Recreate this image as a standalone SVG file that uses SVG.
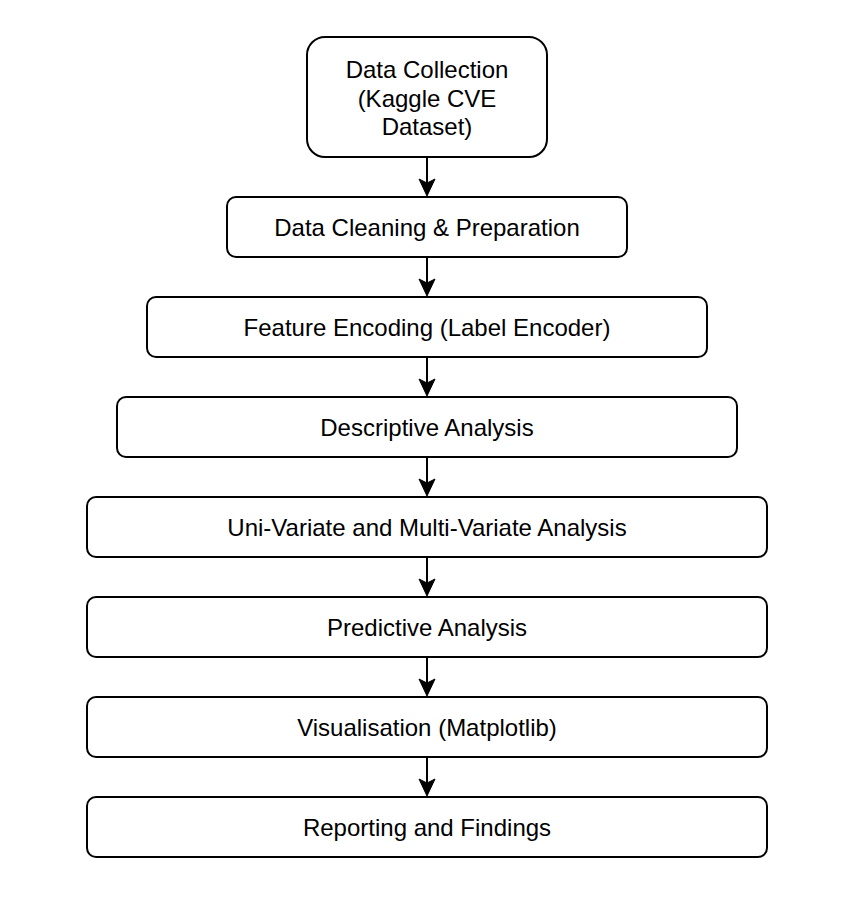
<svg xmlns="http://www.w3.org/2000/svg" width="852" height="898" viewBox="0 0 852 898">
<style>
.box{fill:#ffffff;stroke:#000000;stroke-width:2}
.lbl{font-family:"Liberation Sans",Arial,Helvetica,sans-serif;font-size:24px;fill:#000000;text-anchor:middle}
.edge{stroke:#000000;stroke-width:2;fill:none}
.head{fill:#000000;stroke:#000000;stroke-width:1}
</style>
<rect width="852" height="898" fill="#ffffff"/>
<g id="n1"><rect class="box" x="307" y="37" width="240" height="120" rx="18" ry="18"/>
<text class="lbl" x="427" y="78">Data Collection</text>
<text class="lbl" x="427" y="107">(Kaggle CVE</text>
<text class="lbl" x="427" y="135">Dataset)</text></g>
<g id="n2"><rect class="box" x="227" y="197" width="400" height="60" rx="9" ry="9"/>
<text class="lbl" x="427" y="235.5">Data Cleaning &amp; Preparation</text></g>
<g id="n3"><rect class="box" x="147" y="297" width="560" height="60" rx="9" ry="9"/>
<text class="lbl" x="427" y="335.5">Feature Encoding (Label Encoder)</text></g>
<g id="n4"><rect class="box" x="117" y="397" width="620" height="60" rx="9" ry="9"/>
<text class="lbl" x="427" y="435.5">Descriptive Analysis</text></g>
<g id="n5"><rect class="box" x="87" y="497" width="680" height="60" rx="9" ry="9"/>
<text class="lbl" x="427" y="535.5">Uni-Variate and Multi-Variate Analysis</text></g>
<g id="n6"><rect class="box" x="87" y="597" width="680" height="60" rx="9" ry="9"/>
<text class="lbl" x="427" y="635.5">Predictive Analysis</text></g>
<g id="n7"><rect class="box" x="87" y="697" width="680" height="60" rx="9" ry="9"/>
<text class="lbl" x="427" y="735.5">Visualisation (Matplotlib)</text></g>
<g id="n8"><rect class="box" x="87" y="797" width="680" height="60" rx="9" ry="9"/>
<text class="lbl" x="427" y="835.5">Reporting and Findings</text></g>
<g id="edges">
<line class="edge" x1="427" y1="157" x2="427" y2="184"/>
<path class="head" d="M427,196 L419,179 L427,183 L435,179 Z"/>
<line class="edge" x1="427" y1="257" x2="427" y2="284"/>
<path class="head" d="M427,296 L419,279 L427,283 L435,279 Z"/>
<line class="edge" x1="427" y1="357" x2="427" y2="384"/>
<path class="head" d="M427,396 L419,379 L427,383 L435,379 Z"/>
<line class="edge" x1="427" y1="457" x2="427" y2="484"/>
<path class="head" d="M427,496 L419,479 L427,483 L435,479 Z"/>
<line class="edge" x1="427" y1="557" x2="427" y2="584"/>
<path class="head" d="M427,596 L419,579 L427,583 L435,579 Z"/>
<line class="edge" x1="427" y1="657" x2="427" y2="684"/>
<path class="head" d="M427,696 L419,679 L427,683 L435,679 Z"/>
<line class="edge" x1="427" y1="757" x2="427" y2="784"/>
<path class="head" d="M427,796 L419,779 L427,783 L435,779 Z"/>
</g>
</svg>
